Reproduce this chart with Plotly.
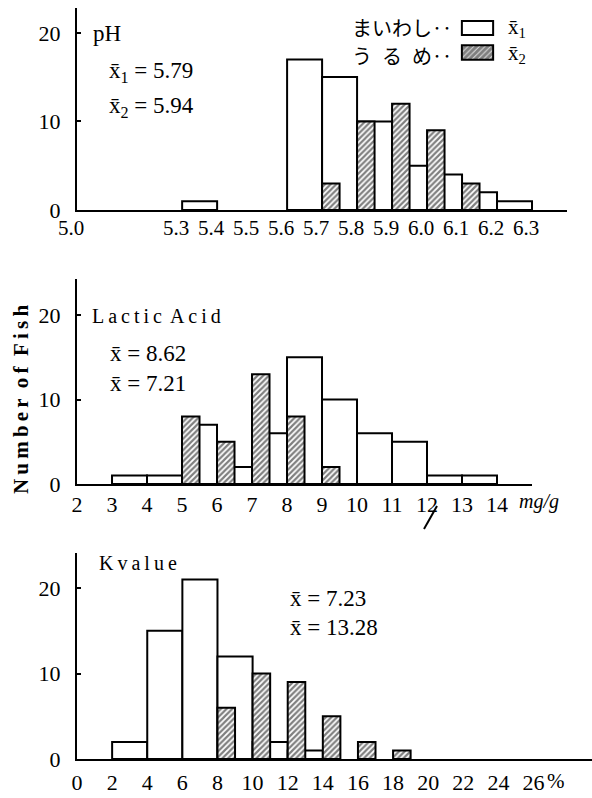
import plotly.graph_objects as go

W, H = 592, 798

# ---------------- data ----------------
# pH  (bin width 0.1, bins given by left edge)
ph_bin = 0.1
ph_maiwashi_left = [5.3, 5.6, 5.7, 5.8, 5.9, 6.0, 6.1, 6.2]
ph_maiwashi = [1, 17, 15, 10, 5, 4, 2, 1]
ph_urume_left = [5.7, 5.8, 5.9, 6.0, 6.1]
ph_urume = [3, 10, 12, 9, 3]
ph_ticks = [5.0, 5.3, 5.4, 5.5, 5.6, 5.7, 5.8, 5.9, 6.0, 6.1, 6.2, 6.3]
ph_ticktext = ["5.0", "5.3", "5.4", "5.5", "5.6", "5.7", "5.8", "5.9", "6.0", "6.1", "6.2", "6.3"]

# Lactic acid (mg/g, bin width 1)
la_bin = 1
la_maiwashi_left = [3, 4, 5, 6, 7, 8, 9, 10, 11, 12, 13]
la_maiwashi = [1, 1, 7, 2, 6, 15, 10, 6, 5, 1, 1]
la_urume_left = [5, 6, 7, 8, 9]
la_urume = [8, 5, 13, 8, 2]
la_ticks = list(range(2, 15))
la_ticktext = [str(v) for v in la_ticks]

# K value (%, bin width 2)
k_bin = 2
k_maiwashi_left = [2, 4, 6, 8, 10, 12]
k_maiwashi = [2, 15, 21, 12, 2, 1]
k_urume_left = [8, 10, 12, 14, 16, 18]
k_urume = [6, 10, 9, 5, 2, 1]
k_ticks = list(range(0, 27, 2))
k_ticktext = [str(v) for v in k_ticks]

y_ticks = [0, 10, 20]

legend_names = ["まいわし", "うるめ"]

# ---------------- helpers ----------------
def px(x):
    return x / W

def py(y):
    return 1 - y / H

SERIF = "Liberation Serif"
CJK = "Noto Sans CJK JP"

white_marker = dict(color="white", line=dict(color="black", width=2))
hatch_marker = dict(color="white", line=dict(color="black", width=2),
                    pattern=dict(shape="/", fgcolor="black", bgcolor="white",
                                 size=4, solidity=0.55))

fig = go.Figure()

panels = [
    ("", ph_maiwashi_left, ph_maiwashi, ph_urume_left, ph_urume, ph_bin),
    ("2", la_maiwashi_left, la_maiwashi, la_urume_left, la_urume, la_bin),
    ("3", k_maiwashi_left, k_maiwashi, k_urume_left, k_urume, k_bin),
]
for sfx, wl, wv, hl, hv, bw in panels:
    fig.add_trace(go.Bar(
        x=[l + bw / 2 for l in wl], y=wv, width=[bw] * len(wl),
        marker=white_marker, name=legend_names[0], showlegend=False,
        xaxis="x" + sfx, yaxis="y" + sfx))
    fig.add_trace(go.Bar(
        x=[l + bw / 4 for l in hl], y=hv, width=[bw / 2] * len(hl),
        marker=hatch_marker, name=legend_names[1], showlegend=False,
        xaxis="x" + sfx, yaxis="y" + sfx))

# legend keys (small bars on their own axis)
fig.add_trace(go.Bar(x=[1], y=[1], orientation="h", width=0.57,
                     marker=white_marker, showlegend=False,
                     xaxis="x4", yaxis="y4"))
fig.add_trace(go.Bar(x=[1], y=[0], orientation="h", width=0.6,
                     marker=dict(color="black", line=dict(color="black", width=2),
                                 pattern=dict(shape="/", fgcolor="black", bgcolor="white",
                                              size=4, solidity=0.8)),
                     showlegend=False, xaxis="x4", yaxis="y4"))

yfont = dict(family=SERIF, size=22, color="black")

def xax(domain, rng, tv, tt, anchor, size, shift=0, standoff=0):
    return dict(domain=domain, range=rng, tickvals=tv, ticktext=tt,
                showline=True, linecolor="black", linewidth=2, ticks="",
                showgrid=False, zeroline=False,
                tickfont=dict(family=SERIF, size=size, color="black"),
                anchor=anchor, ticklabelshift=shift, ticklabelstandoff=standoff,
                automargin=False, fixedrange=True)

def yax(domain, rng, anchor):
    return dict(domain=domain, range=rng, tickvals=y_ticks,
                showline=True, linecolor="black", linewidth=2,
                ticks="inside", ticklen=4, tickwidth=2, tickcolor="black",
                showgrid=False, zeroline=False, tickfont=yfont,
                anchor=anchor, ticklabelstandoff=10, automargin=False,
                fixedrange=True)

fig.update_layout(
    width=W, height=H, autosize=False,
    margin=dict(l=0, r=0, t=0, b=0, pad=0, autoexpand=False),
    paper_bgcolor="white", plot_bgcolor="rgba(0,0,0,0)",
    barmode="overlay", showlegend=False,
    xaxis=xax([px(77), px(567)], [4.9995, 6.4], ph_ticks, ph_ticktext, "y", 21, shift=-6, standoff=-2),
    yaxis=yax([py(210), py(8)], [0, 22.8], "x"),
    xaxis2=xax([px(77), px(532)], [1.9995, 15.0], la_ticks, la_ticktext, "y2", 22, standoff=0),
    yaxis2=yax([py(484), py(279)], [0, 24.26], "x2"),
    xaxis3=xax([px(77), px(592)], [-0.001, 29.33], k_ticks, k_ticktext, "y3", 22, standoff=3),
    yaxis3=yax([py(759), py(553)], [0, 24.1], "x3"),
    xaxis4=dict(domain=[px(460), px(495)], range=[-0.06, 1.06], visible=False,
                anchor="y4", fixedrange=True),
    yaxis4=dict(domain=[py(66), py(12)], range=[-0.55, 1.65], visible=False,
                anchor="x4", fixedrange=True),
)

TS = "\u2009"  # thin space used for the letter-spaced labels

def ann(text, x, y, size=22, family=SERIF, xanchor="left", angle=0, italic=False, bold=False):
    fig.add_annotation(text=text, x=px(x), y=py(y), xref="paper", yref="paper",
                       xanchor=xanchor, yanchor="middle", showarrow=False,
                       textangle=angle,
                       font=dict(family=family, size=size, color="black",
                                 style="italic" if italic else "normal",
                                 weight="bold" if bold else "normal"))

XB = "x\u0304"
# pH panel
ann("pH", 91, 34, size=23)
ann(XB + "<sub>1</sub> = 5.79", 107, 72, size=23)
ann(XB + "<sub>2</sub> = 5.94", 107, 107, size=23)
ann("まいわし‥", 350, 27, size=20, family=CJK)
ann("う\u2002る\u2002め‥", 350, 55, size=20, family=CJK)
ann(XB + "<sub>1</sub>", 506, 28, size=21)
ann(XB + "<sub>2</sub>", 506, 54, size=21)

# Lactic acid panel
ann(TS.join("Lactic") + TS + " " + TS.join("Acid"), 90, 316, size=20)
ann(XB + " = 8.62", 108, 354, size=23)
ann(XB + " = 7.21", 108, 383, size=23)
ann("mg/g", 517, 501, size=20, italic=True)

# K value panel
ann("K" + TS + TS.join("value"), 97, 563, size=20)
ann(XB + " = 7.23", 288, 598, size=23)
ann(XB + " = 13.28", 288, 627, size=23)
ann("%", 545, 781, size=21)

# y-axis title
ann(TS.join("Number") + "  " + TS.join("of") + "  " + TS.join("Fish"),
    21, 400, size=21, xanchor="center", angle=-90, bold=True)

# stray stroke below the lactic-acid axis in the original
fig.add_shape(type="line", xref="paper", yref="paper",
              x0=px(424), y0=py(529), x1=px(437), y1=py(506),
              line=dict(color="black", width=2))

fig.write_html("out.html")
